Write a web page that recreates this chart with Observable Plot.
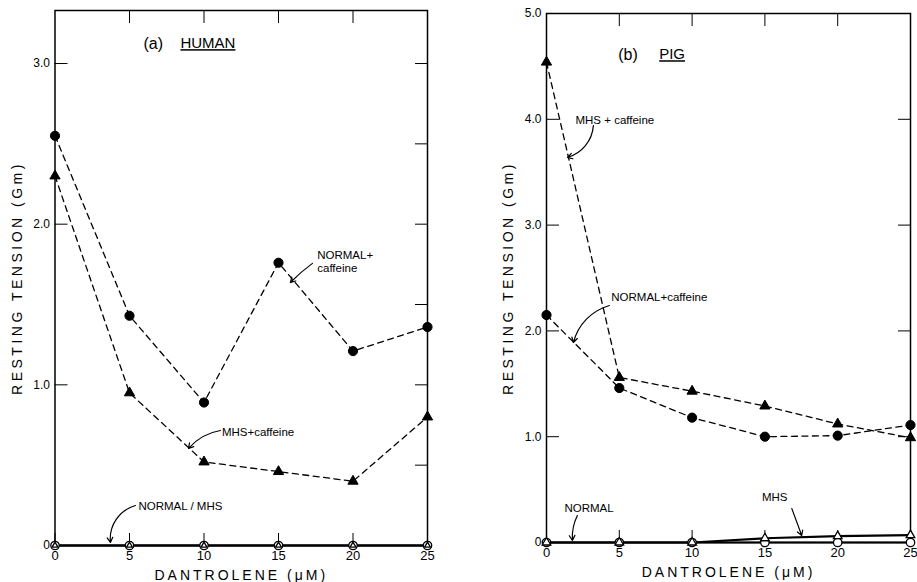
<!DOCTYPE html>
<html><head><meta charset="utf-8">
<script src="https://cdn.jsdelivr.net/npm/d3@7"></script>
<script src="https://cdn.jsdelivr.net/npm/@observablehq/plot@0.6"></script>
<style>
body{margin:0;background:#fff}
#wrap{position:relative;width:917px;height:582px;overflow:hidden;background:#fff}
#wrap svg{position:absolute;top:0}
g[aria-label="y-axis label"] text{letter-spacing:3.5px;font-size:14px}
g[aria-label="x-axis label"] text{letter-spacing:3px;font-size:14px}
</style></head><body><div id="wrap"></div>
<script>
// ---- data ----
const doses = [0, 5, 10, 15, 20, 25];
const humanNormalCaf = [2.55, 1.43, 0.89, 1.76, 1.21, 1.36];
const humanMhsCaf    = [2.30, 0.95, 0.52, 0.46, 0.40, 0.80];
const humanNormal    = [0, 0, 0, 0, 0, 0];
const humanMhs       = [0, 0, 0, 0, 0, 0];
const pigMhsCaf      = [4.54, 1.56, 1.43, 1.29, 1.12, 0.99];
const pigNormalCaf   = [2.15, 1.46, 1.18, 1.00, 1.01, 1.11];
const pigNormal      = [0, 0, 0, 0, 0, 0];
const pigMhs         = [0, 0, 0, 0.04, 0.06, 0.07];
const humanYTicks = [0, 1, 2, 3];
const humanYMinor = [0.5, 1.5, 2.5];
const pigYTicks = [0, 1, 2, 3, 4, 5];
const topTicks = [5, 10, 15, 20];
const yLabel = "RESTING TENSION (Gm)";
const xLabel = "DANTROLENE (μM)";

// annotations (data coordinates)
const humanTexts = [
  {x: 5.94, y: 3.13, text: "(a)", size: 16},
  {x: 8.42, y: 3.13, text: "HUMAN", size: 15, u: true},
  {x: 17.6, y: 1.77, text: "NORMAL+\ncaffeine", size: 11.5},
  {x: 11.2, y: 0.71, text: "MHS+caffeine", size: 11.5},
  {x: 5.6, y: 0.245, text: "NORMAL / MHS", size: 11.5}
];
const humanArrows = [
  {x1: 17.28, y1: 1.756, x2: 15.8, y2: 1.637, bend: -5},
  {x1: 11.1, y1: 0.716, x2: 8.96, y2: 0.604, bend: -20},
  {x1: 5.40, y1: 0.249, x2: 3.72, y2: 0.019, bend: -40}
];
const pigTexts = [
  {x: 4.93, y: 4.62, text: "(b)", size: 16},
  {x: 7.74, y: 4.62, text: "PIG", size: 15, u: true},
  {x: 1.99, y: 4.0, text: "MHS + caffeine", size: 11.5},
  {x: 4.45, y: 2.32, text: "NORMAL+caffeine", size: 11.5},
  {x: 1.23, y: 0.33, text: "NORMAL", size: 11.5},
  {x: 14.8, y: 0.43, text: "MHS", size: 11.5}
];
const pigArrows = [
  {x1: 3.22, y1: 3.94, x2: 1.44, y2: 3.64, bend: 35},
  {x1: 4.32, y1: 2.24, x2: 1.85, y2: 1.89, bend: -30},
  {x1: 2.12, y1: 0.255, x2: 1.78, y2: 0.02, bend: -15},
  {x1: 16.85, y1: 0.32, x2: 17.53, y2: 0.066, bend: 0}
];

const rows = vals => doses.map((d, i) => ({dose: d, t: vals[i]}));
const fmt = d => d === 0 ? "0" : d.toFixed(1);

function panel({width, ml, mr, mt, mb, yMax, yTicks, yMinor, series, texts, arrows}) {
  const marks = [
    Plot.frame({stroke: "#000", strokeWidth: 1.5}),
    Plot.axisX({anchor: "bottom", ticks: doses, tickSize: -12, tickPadding: 17, fontSize: 13,
      label: xLabel, labelAnchor: "center", labelArrow: "none", labelOffset: 34}),
    Plot.axisX({anchor: "top", ticks: topTicks, tickSize: -12, tickFormat: () => "", label: null}),
    Plot.axisY({anchor: "left", ticks: yTicks, tickSize: -13, tickPadding: 18, tickFormat: fmt, fontSize: 12,
      label: yLabel, labelAnchor: "center", labelArrow: "none", labelOffset: 43}),
    Plot.axisY({anchor: "right", ticks: yTicks.concat(yMinor), tickSize: -13, tickFormat: () => "", label: null})
  ];
  for (const s of series) {
    const data = rows(s.vals);
    marks.push(Plot.line(data, {x: "dose", y: "t", stroke: "#000",
      strokeWidth: s.dash ? 1.3 : 2.2, strokeDasharray: s.dash ? "6,4.5" : null}));
  }
  for (const s of series) {
    const data = rows(s.vals);
    marks.push(Plot.dot(data, {x: "dose", y: "t", symbol: s.symbol, r: s.r,
      fill: s.fill ? "#000" : "#fff", stroke: "#000", strokeWidth: s.fill ? 1 : 1.3}));
  }
  for (const ar of arrows) {
    marks.push(Plot.arrow([ar], {x1: "x1", y1: "y1", x2: "x2", y2: "y2", bend: ar.bend,
      stroke: "#000", strokeWidth: 1.2, headLength: 7}));
  }
  marks.push(Plot.text(texts, {x: "x", y: "y", text: "text", fontSize: d => d.size, textAnchor: "start",
    fill: "#000", lineHeight: 1.15}));
  const svg = Plot.plot({
    width, height: 582, marginLeft: ml, marginRight: mr, marginTop: mt, marginBottom: mb,
    x: {domain: [0, 25]},
    y: {domain: [0, yMax]},
    clip: false,
    style: {fontFamily: "'Liberation Sans', Arial, sans-serif", fontSize: "13px", background: "transparent", color: "#000", overflow: "visible"},
    marks
  });
  d3.select(svg).selectAll("text").filter(function () {
    return texts.some(t => t.u && t.text === this.textContent);
  }).attr("text-decoration", "underline");
  return svg;
}

const wrap = document.getElementById("wrap");
const a = panel({width: 460, ml: 54.5, mr: 33, mt: 10, mb: 37, yMax: 3.33, yTicks: humanYTicks, yMinor: humanYMinor,
  series: [
    {vals: humanNormalCaf, dash: true, symbol: "circle", fill: true, r: 4.6},
    {vals: humanMhsCaf, dash: true, symbol: "triangle", fill: true, r: 3.8},
    {vals: humanNormal, dash: false, symbol: "circle", fill: false, r: 4.2},
    {vals: humanMhs, dash: false, symbol: "triangle", fill: false, r: 2.2}
  ], texts: humanTexts, arrows: humanArrows});
a.style.left = "0px";
wrap.appendChild(a);
const b = panel({width: 457, ml: 86, mr: 7, mt: 13, mb: 40, yMax: 5, yTicks: pigYTicks, yMinor: [],
  series: [
    {vals: pigMhsCaf, dash: true, symbol: "triangle", fill: true, r: 3.8},
    {vals: pigNormalCaf, dash: true, symbol: "circle", fill: true, r: 4.6},
    {vals: pigNormal, dash: false, symbol: "circle", fill: false, r: 4.2},
    {vals: pigMhs, dash: false, symbol: "triangle", fill: false, r: 3.2}
  ], texts: pigTexts, arrows: pigArrows});
b.style.left = "460px";
wrap.appendChild(b);
</script></body></html>
